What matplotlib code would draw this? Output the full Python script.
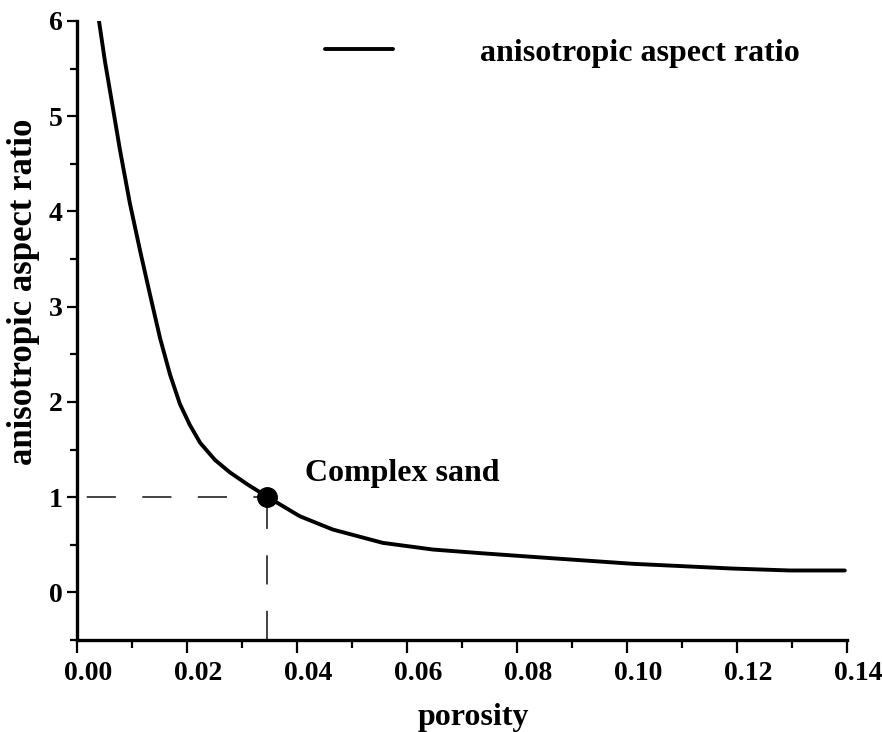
import matplotlib
matplotlib.use("Agg")
import matplotlib.pyplot as plt
import matplotlib.transforms as mtransforms

# ---- data ----
porosity = [0.0040, 0.0051, 0.0064, 0.0078, 0.0096, 0.0115, 0.0133, 0.0151,
            0.0169, 0.0187, 0.0205, 0.0224, 0.0251, 0.0278, 0.0311, 0.0347,
            0.0405, 0.0465, 0.0556, 0.0647, 0.0738, 0.0860, 0.1011, 0.1193,
            0.1296, 0.1396]
aspect_ratio = [6.00, 5.57, 5.13, 4.65, 4.09, 3.58, 3.12, 2.67,
                2.29, 1.98, 1.76, 1.57, 1.39, 1.26, 1.13, 1.00,
                0.80, 0.66, 0.52, 0.45, 0.41, 0.36, 0.30, 0.25,
                0.23, 0.23]
point_x = 0.0345
point_y = 1.0
point_label = "Complex sand"
series_label = "anisotropic aspect ratio"
x_label = "porosity"
y_label = "anisotropic aspect ratio"
x_ticks = [0.00, 0.02, 0.04, 0.06, 0.08, 0.10, 0.12, 0.14]
x_minor = [0.01, 0.03, 0.05, 0.07, 0.09, 0.11, 0.13]
y_ticks = [0, 1, 2, 3, 4, 5, 6]
y_minor = [-0.5, 0.5, 1.5, 2.5, 3.5, 4.5, 5.5]

plt.rcParams['font.family'] = 'serif'
plt.rcParams['font.serif'] = ['Liberation Serif', 'DejaVu Serif']
plt.rcParams['font.weight'] = 'bold'
plt.rcParams['lines.scale_dashes'] = False

W, H = 882, 732
fig = plt.figure(figsize=(W / 100, H / 100), dpi=100)
ax = fig.add_axes([77 / W, 1 - 640 / H, 770 / W, 619 / H])

ax.plot(porosity, aspect_ratio, color='black', lw=2.8,
        solid_capstyle='round', solid_joinstyle='round', label=series_label, zorder=3)

ax.plot([0, point_x], [point_y, point_y], color='#222222', lw=1.2,
        linestyle=(33, (21, 19)), zorder=2)
ax.plot([point_x, point_x], [-0.5, point_y], color='#222222', lw=1.2,
        linestyle=(0, (21, 19)), zorder=2)
ax.plot([point_x], [point_y], 'o', color='black', ms=14, zorder=4)
ax.text(0.0415, 1.165, point_label, fontsize=23, fontweight='bold',
        ha='left', va='baseline')

ax.set_xlim(0, 0.14)
ax.set_ylim(-0.5, 6.0)
for s in ['top', 'right']:
    ax.spines[s].set_visible(False)
for s in ['left', 'bottom']:
    ax.spines[s].set_linewidth(2.4)
    ax.spines[s].set_capstyle('projecting')

ax.set_xticks(x_ticks)
ax.set_xticks(x_minor, minor=True)
ax.set_xticklabels([f"{v:.2f}" for v in x_ticks])
ax.set_yticks(y_ticks)
ax.set_yticks(y_minor, minor=True)
ax.set_yticklabels([str(v) for v in y_ticks])

ax.tick_params(axis='x', which='major', direction='out', length=9.4, width=1.6,
               labelsize=20, pad=5.5)
ax.tick_params(axis='x', which='minor', direction='out', length=5.8, width=1.6)
ax.tick_params(axis='y', which='major', direction='out', length=7.2, width=1.6,
               labelsize=20, pad=3)
ax.tick_params(axis='y', which='minor', direction='out', length=5, width=1.6)

offset = mtransforms.ScaledTranslation(11 / 100, 0, fig.dpi_scale_trans)
for lab in ax.get_xticklabels():
    lab.set_transform(lab.get_transform() + offset)
    lab.set_fontweight('bold')
for lab in ax.get_yticklabels():
    lab.set_fontweight('bold')

ax.set_xlabel(x_label, fontsize=23, fontweight='bold')
ax.xaxis.set_label_coords((473 - 77) / 770, (640 - 725) / 619)
ax.xaxis.label.set_va('baseline')
ax.set_ylabel(y_label, fontsize=25, fontweight='bold')
ax.yaxis.set_label_coords((24 - 77) / 770, (640 - 292) / 619)
ax.yaxis.label.set_va('center')

fs_leg = 23
em = fs_leg * 100 / 72
ax.legend(loc='center left', bbox_to_anchor=(325 / W, 1 - 53 / H),
          bbox_transform=fig.transFigure, frameon=False, borderpad=0,
          borderaxespad=0, handlelength=68 / em, handletextpad=(480 - 393) / em,
          prop={'weight': 'bold', 'size': fs_leg})

fig.savefig('out.png', dpi=100)
